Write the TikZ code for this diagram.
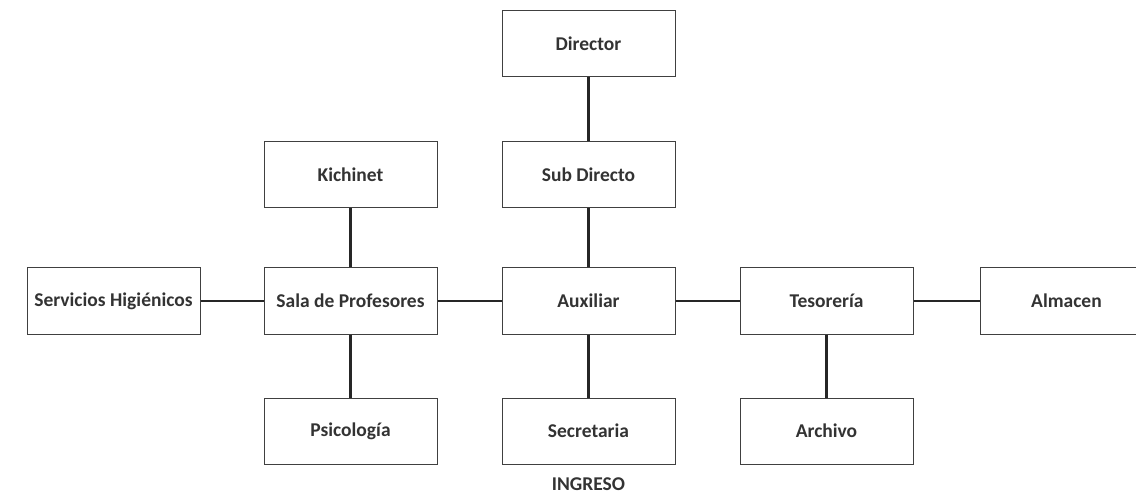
\documentclass[tikz,border=0pt]{standalone}
\usepackage{fontspec}
\setmainfont{Carlito}
\begin{document}
\begin{tikzpicture}[x=1pt,y=-1pt,
  lbl/.style={font=\fontsize{19.5}{23}\selectfont\bfseries, text=black!80},
  box/.style={lbl, draw=black!75, line width=1pt, minimum width=173pt, minimum height=66pt, inner sep=0pt},
  conn/.style={line width=2.8pt, draw=black!85}]
\useasboundingbox (0,0) rectangle (1136,497);
\begin{scope}
\clip (0,0) rectangle (1136,497);
\node[box] (dir) at (588.5,44) {Director};
\node[box] (sub) at (588.5,175) {Sub Directo};
\node[box] (aux) at (588.5,301) {Auxiliar};
\node[box] (sec) at (588.5,431) {Secretaria};
\node[lbl] (ing) at (588.5,484) {INGRESO};
\node[box] (kic) at (350.5,175) {Kichinet};
\node[box] (sala) at (350.5,301) {Sala de Profesores};
\node[box] (psi) at (350.5,431) {Psicología};
\node[box] (serv) at (113.5,301) {Servicios Higiénicos};
\node[box] (tes) at (826.5,301) {Tesorería};
\node[box] (arc) at (826.5,431) {Archivo};
\node[box] (alm) at (1066.5,301) {Almacen};
\draw[conn] (dir) -- (sub);
\draw[conn] (sub) -- (aux);
\draw[conn] (aux) -- (sec);
\draw[conn] (kic) -- (sala);
\draw[conn] (sala) -- (psi);
\draw[conn] (serv) -- (sala);
\draw[conn] (sala) -- (aux);
\draw[conn] (aux) -- (tes);
\draw[conn] (tes) -- (alm);
\draw[conn] (tes) -- (arc);
\end{scope}
\end{tikzpicture}
\end{document}
